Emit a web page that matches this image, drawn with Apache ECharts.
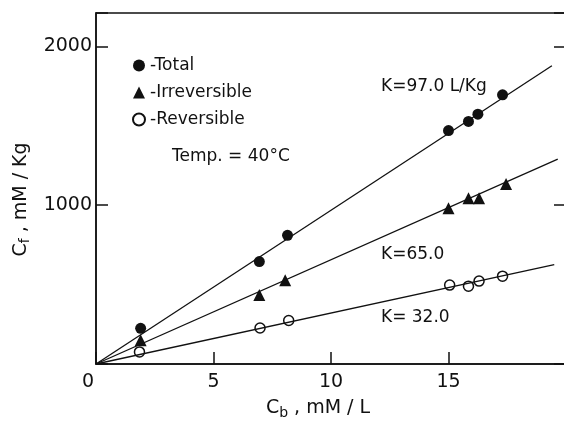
<!DOCTYPE html>
<html>
<head>
<meta charset="utf-8">
<script src="https://cdn.jsdelivr.net/npm/echarts@6/dist/echarts.min.js"></script>
<style>html,body{margin:0;padding:0;background:#fff}#c{width:564px;height:424px}</style>
</head>
<body>
<div id="c"></div>
<script>
// ---- data ----
const totalX = [1.9, 6.95, 8.15, 15.0, 15.85, 16.25, 17.3];
const totalY = [225, 645, 810, 1470, 1527, 1573, 1695];
const irrevX = [1.9, 6.95, 8.05, 15.0, 15.85, 16.3, 17.45];
const irrevY = [150, 435, 528, 980, 1043, 1043, 1134];
const revX = [1.85, 6.98, 8.2, 15.05, 15.85, 16.3, 17.3];
const revY = [76, 227, 274, 497, 490, 522, 553];
// fitted lines (from origin) end points
const fitTotalX = [0, 19.4], fitTotalY = [0, 1878];
const fitIrrevX = [0, 19.65], fitIrrevY = [0, 1290];
const fitRevX = [0, 19.5], fitRevY = [0, 625];
const xTicks = [0, 5, 10, 15];
const yTicks = [1000, 2000];
const names = ['Total', 'Irreversible', 'Reversible'];

const zip = (a, b) => a.map((v, i) => [v, b[i]]);
const FONT = 'DejaVu Sans';
const ink = '#111';

const chart = echarts.init(document.getElementById('c'));
chart.setOption({
  animation: false,
  backgroundColor: '#fff',
  textStyle: { fontFamily: FONT, color: ink },
  grid: { left: 96, top: 13, right: -2, bottom: 60, show: true, borderColor: ink, borderWidth: 1.5, containLabel: false, outerBoundsMode: 'none' },
  legend: {
    orient: 'vertical', left: 127, top: 52, itemWidth: 12, itemHeight: 12, itemGap: 10,
    textStyle: { fontFamily: FONT, fontSize: 17, color: ink },
    formatter: n => '-' + n,
    data: [
      { name: names[0], icon: 'circle' },
      { name: names[1], icon: 'triangle' },
      { name: names[2], icon: 'circle' }
    ]
  },
  xAxis: [{
    type: 'value', min: 0, max: 20, interval: 5,
    name: '{a|C}{s|b}{a| , mM / L}', nameLocation: 'middle', nameGap: 32,
    nameTextStyle: { padding: [0, 26, 0, 0], rich: { a: { fontSize: 19, fontFamily: FONT, color: ink }, s: { fontSize: 14, fontFamily: FONT, color: ink, padding: [10, 0, 0, 0] } } },
    axisLine: { lineStyle: { color: ink, width: 1.5 } },
    axisTick: { inside: true, length: 12, lineStyle: { color: ink, width: 1.5 } },
    axisLabel: { fontSize: 19, color: ink, margin: 9, fontFamily: FONT,
      formatter: v => xTicks.includes(v) ? (v === 0 ? '{z|0}' : String(v)) : '',
      rich: { z: { fontSize: 19, fontFamily: FONT, color: ink, padding: [0, 16, 0, 0] } } },
    splitLine: { show: false }
  }],
  yAxis: [{
    type: 'value', min: 0, max: 2210, interval: 1000,
    name: '{a|C}{s|f}{a| , mM / Kg}', nameLocation: 'middle', nameGap: 62,
    nameTextStyle: { padding: [0, 22, 0, 0], rich: { a: { fontSize: 19, fontFamily: FONT, color: ink }, s: { fontSize: 14, fontFamily: FONT, color: ink, padding: [10, 0, 0, 0] } } },
    axisLine: { lineStyle: { color: ink, width: 1.5 } },
    axisTick: { inside: true, length: 12, lineStyle: { color: ink, width: 1.5 } },
    axisLabel: { fontSize: 19, color: ink, margin: 4, fontFamily: FONT, formatter: v => yTicks.includes(v) ? String(v) : '' },
    splitLine: { show: false }
  }, {
    type: 'value', min: 0, max: 2210, interval: 1000, position: 'right',
    axisLine: { show: true, lineStyle: { color: ink, width: 1.5 } },
    axisTick: { inside: true, length: 12, lineStyle: { color: ink, width: 1.5 } },
    axisLabel: { show: false }, splitLine: { show: false }
  }],
  series: [
    { type: 'line', data: zip(fitTotalX, fitTotalY), symbol: 'none', lineStyle: { color: ink, width: 1.3 }, silent: true },
    { type: 'line', data: zip(fitIrrevX, fitIrrevY), symbol: 'none', lineStyle: { color: ink, width: 1.3 }, silent: true },
    { type: 'line', data: zip(fitRevX, fitRevY), symbol: 'none', lineStyle: { color: ink, width: 1.3 }, silent: true },
    { name: names[0], type: 'scatter', data: zip(totalX, totalY), symbol: 'circle', symbolSize: 11, itemStyle: { color: ink, opacity: 1 } },
    { name: names[1], type: 'scatter', data: zip(irrevX, irrevY), symbol: 'triangle', symbolSize: 12, itemStyle: { color: ink, opacity: 1 } },
    { name: names[2], type: 'scatter', data: zip(revX, revY), symbol: 'circle', symbolSize: 10, itemStyle: { color: '#fff', borderColor: ink, borderWidth: 1.5, opacity: 1 } }
  ],
  graphic: [
    { type: 'text', left: 172, top: 148, style: { text: 'Temp. = 40°C', font: '17px ' + FONT, fill: ink } },
    { type: 'text', left: 381, top: 78, style: { text: 'K=97.0 L/Kg', font: '17px ' + FONT, fill: ink } },
    { type: 'text', left: 381, top: 246, style: { text: 'K=65.0', font: '17px ' + FONT, fill: ink } },
    { type: 'text', left: 381, top: 309, style: { text: 'K= 32.0', font: '17px ' + FONT, fill: ink } }
  ]
});
</script>
</body>
</html>
